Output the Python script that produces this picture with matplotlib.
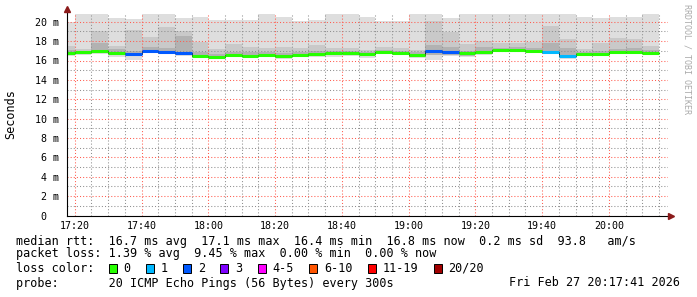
import numpy as np
import matplotlib.pyplot as plt
from matplotlib.patches import Rectangle
from matplotlib.ticker import MultipleLocator, FuncFormatter

# time axis in minutes since midnight, 5 min bins (first one is cut by the window)
bin_start = np.arange(17 * 60 + 15, 20 * 60 + 15, 5)
t_from = 17 * 60 + 17 + 41 / 60.0
t_to = 20 * 60 + 17 + 41 / 60.0

# smoke, ms (max / upper bands / median / lower band / min)
rtt_max = [20.0, 20.75, 20.75, 20.4, 20.3, 20.75, 20.75, 20.4, 20.5, 20.2, 20.15, 20.15,
           20.75, 20.5, 20.1, 20.2, 20.75, 20.75, 20.5, 20.1, 20.1, 20.75, 20.75, 20.4,
           20.75, 20.75, 20.75, 20.75, 20.75, 20.75, 20.75, 20.5, 20.4, 20.5, 20.5, 20.75]
rtt_hi2 = [17.5, 17.2, 19.0, 17.5, 19.15, 18.45, 19.5, 19.0, 17.95, 17.15, 17.7, 17.4,
           17.25, 17.4, 17.25, 17.65, 17.25, 17.25, 17.1, 17.4, 17.25, 17.1, 20.05, 18.9,
           17.7, 18.0, 17.85, 17.8, 17.95, 19.55, 18.2, 17.15, 17.8, 18.35, 18.2, 17.5]
rtt_hi3 = [17.1, 17.0, 17.85, 17.15, 17.0, 17.4, 17.25, 18.5, 16.9, 16.7, 16.9, 16.85,
           16.9, 16.8, 16.85, 16.95, 16.95, 16.95, 16.9, 17.05, 16.95, 16.85, 17.6, 17.35,
           17.0, 17.4, 17.3, 17.35, 17.25, 17.85, 17.25, 16.9, 16.95, 17.2, 17.3, 17.1]
rtt_median = [16.75, 16.85, 16.95, 16.75, 16.65, 17.0, 16.9, 16.75, 16.5, 16.4, 16.6, 16.5,
              16.6, 16.45, 16.55, 16.7, 16.75, 16.8, 16.7, 16.85, 16.75, 16.6, 17.0, 16.9,
              16.75, 16.85, 17.1, 17.1, 17.0, 16.9, 16.45, 16.65, 16.65, 16.85, 16.9, 16.8]
rtt_lo = [16.6, 16.7, 16.8, 16.55, 16.45, 16.85, 16.75, 16.55, 16.35, 16.25, 16.45, 16.35,
          16.45, 16.3, 16.4, 16.5, 16.55, 16.6, 16.45, 16.7, 16.6, 16.4, 16.6, 16.6,
          16.5, 16.7, 16.95, 16.95, 16.85, 16.75, 16.3, 16.5, 16.5, 16.7, 16.75, 16.65]
rtt_min = [16.5, 16.6, 16.7, 16.35, 16.1, 16.75, 16.65, 16.45, 16.3, 16.15, 16.4, 16.3,
           16.35, 16.2, 16.35, 16.4, 16.4, 16.5, 16.3, 16.65, 16.55, 16.3, 16.1, 16.5,
           16.4, 16.6, 16.9, 16.9, 16.8, 16.7, 16.2, 16.45, 16.45, 16.65, 16.7, 16.6]
# lost pings per bin (out of 20)
lost = [0, 0, 0, 0, 2, 2, 2, 2, 0, 0, 0, 0, 0, 0, 0, 0, 0, 0, 0, 0, 0, 0, 2, 2,
        0, 0, 0, 0, 0, 1, 1, 0, 0, 0, 0, 0]

loss_labels = ["0", "1", "2", "3", "4-5", "6-10", "11-19", "20/20"]
loss_colors = ["#26ff00", "#00b8ff", "#0059ff", "#7e00ff", "#ff00ff", "#ff5500", "#ff0000", "#a10000"]

W, H = 697, 297
fig = plt.figure(figsize=(W / 100, H / 100), dpi=100)
fig.patch.set_facecolor("white")
ax = fig.add_axes([67 / W, 1 - 215.5 / H, 601 / W, 201.5 / H])
mono = "DejaVu Sans Mono"

edges = np.append(bin_start, bin_start[-1] + 5)
def ext(a):
    return np.append(a, a[-1])

ax.fill_between(edges, ext(rtt_min), ext(rtt_max), step="post", color="#dedede", lw=0, zorder=1)
ax.fill_between(edges, ext(rtt_lo), ext(rtt_hi2), step="post", color="#c9c9c9", lw=0, zorder=1.1)
ax.fill_between(edges, ext(rtt_lo), ext(rtt_hi3), step="post", color="#b2b2b2", lw=0, zorder=1.2)

ax.step(edges, ext(rtt_median), where="post", color="#222222", lw=0.7, zorder=3)
ax.hlines(rtt_median, bin_start, bin_start + 5, colors=[loss_colors[l] for l in lost],
          lw=2.2, zorder=4)

ax.set_xlim(t_from, t_to)
ax.set_ylim(0, 20.8)

# grid
ax.xaxis.set_major_locator(MultipleLocator(20))
ax.xaxis.set_minor_locator(MultipleLocator(5))
ax.yaxis.set_major_locator(MultipleLocator(2))
ax.yaxis.set_minor_locator(MultipleLocator(1))
ax.grid(which="minor", color=(0.56, 0.56, 0.56, 0.35), lw=0.75, ls=(0, (1, 2)), zorder=5)
ax.grid(which="major", color=(1.0, 0.36, 0.31, 0.38), lw=0.75, ls=(0, (1, 2)), zorder=5.5)

ax.xaxis.set_major_formatter(FuncFormatter(lambda v, p: "%02d:%02d" % (int(v) // 60, int(v) % 60)))
ax.yaxis.set_major_formatter(FuncFormatter(lambda v, p: "%d m" % v if v > 0 else "0\u00a0\u00a0"))
ax.tick_params(which="both", length=0)
ax.tick_params(axis="y", pad=6, labelsize=7.2)
ax.tick_params(axis="x", pad=4, labelsize=7.2)
for lab in ax.get_xticklabels() + ax.get_yticklabels():
    lab.set_family(mono)

for s in ax.spines.values():
    s.set_visible(False)
ax.plot([t_from, t_to + 0.6], [0, 0], color="black", lw=0.8, clip_on=False, zorder=6)
ax.plot([t_from, t_from], [0, 21.1], color="black", lw=0.8, clip_on=False, zorder=6)
ax.plot(t_to + 1.0, 0, marker=">", color="#8b1a1a", ms=4, clip_on=False, zorder=7)
ax.plot(t_from, 21.3, marker="^", color="#8b1a1a", ms=4, clip_on=False, zorder=7)

def fx(px):
    return px / W
def fy(py):
    return 1 - py / H

fig.text(fx(11), fy(114), "Seconds", rotation=90, ha="center", va="center", family=mono, fontsize=8.5)
fig.text(fx(687), fy(4), "RRDTOOL / TOBI OETIKER", rotation=270, ha="center", va="top",
         family=mono, fontsize=6, color="#aaaaaa")

fs = 8.5
fig.text(fx(16), fy(241), "median rtt:  16.7 ms avg  17.1 ms max  16.4 ms min  16.8 ms now  0.2 ms sd  93.8   am/s",
         family=mono, fontsize=fs, va="center")
fig.text(fx(16), fy(254), "packet loss: 1.39 % avg  9.45 % max  0.00 % min  0.00 % now",
         family=mono, fontsize=fs, va="center")
fig.text(fx(16), fy(268), "loss color:", family=mono, fontsize=fs, va="center")
fig.text(fx(16), fy(283), "probe:       20 ICMP Echo Pings (56 Bytes) every 300s",
         family=mono, fontsize=fs, va="center")
fig.text(fx(680), fy(283), "Fri Feb 27 20:17:41 2026", family=mono, fontsize=fs, va="center", ha="right")

cw = 7.1
bx = 108.5
for lab, col in zip(loss_labels, loss_colors):
    fig.patches.append(Rectangle((fx(bx), fy(272.5)), 8 / W, 9 / H, transform=fig.transFigure,
                                 facecolor=col, edgecolor="black", lw=0.7))
    lx = bx + 15
    fig.text(fx(lx), fy(268), lab, family=mono, fontsize=fs, va="center")
    bx = lx + (len(lab) + 2) * cw + 1

fig.savefig("out.png", dpi=100, facecolor="white")
